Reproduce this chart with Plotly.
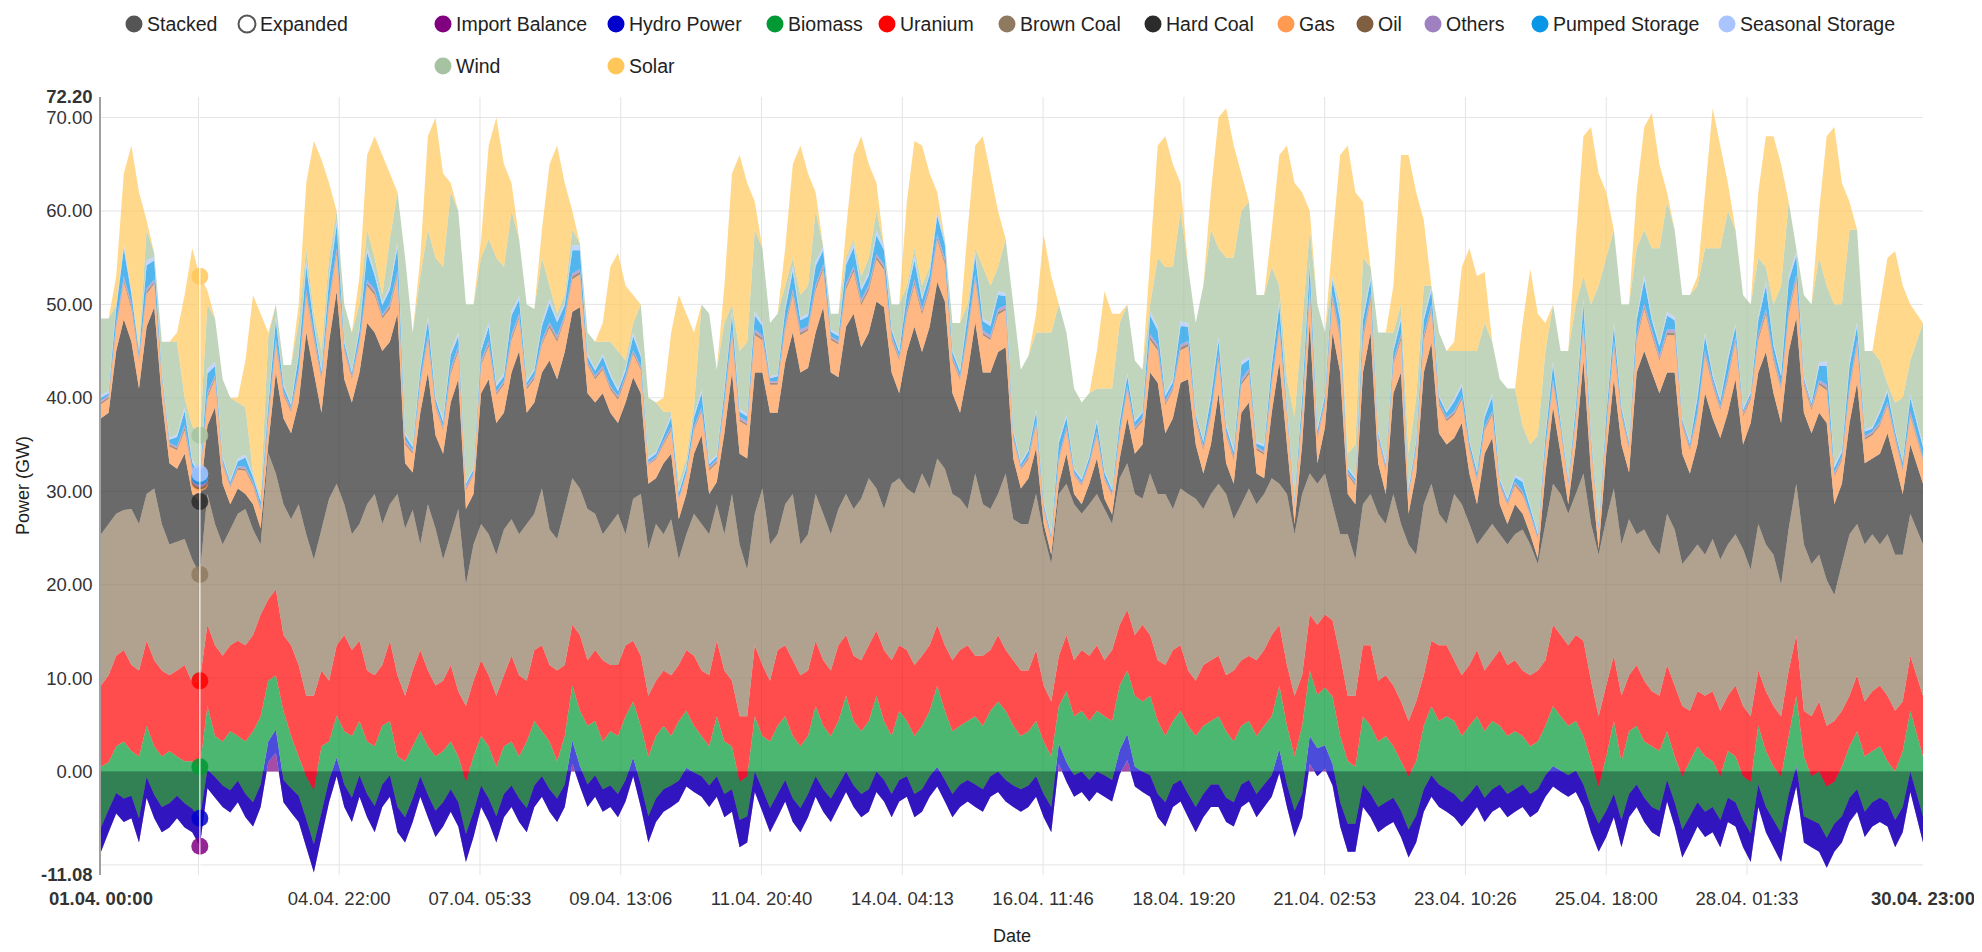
import numpy as np
import plotly.graph_objects as go

# ---------------------------------------------------------------- time axis
# samples every 3 hours, hours counted from 01.04. 00:00 (last sample 30.04. 23:00)
hours = list(range(0, 717, 3)) + [719]

tick_hours = [0, 38.45, 94.0, 149.55, 205.1, 260.67, 316.22, 371.77, 427.33,
              482.88, 538.43, 594.0, 649.55, 719]
tick_labels = ["<b>01.04. 00:00</b>", "", "04.04. 22:00", "07.04. 05:33", "09.04. 13:06",
               "11.04. 20:40", "14.04. 04:13", "16.04. 11:46", "18.04. 19:20",
               "21.04. 02:53", "23.04. 10:26", "25.04. 18:00", "28.04. 01:33",
               "<b>30.04. 23:00</b>"]
y_ticks = [-11.08, 0, 10, 20, 30, 40, 50, 60, 70, 72.2]
y_labels = ["<b>-11.08</b>", "0.00", "10.00", "20.00", "30.00", "40.00", "50.00",
            "60.00", "70.00", "<b>72.20</b>"]

# ---------------------------------------------------------------- values (GW)
import_balance = [
    -8.6, -6.5, -4.5, -5.4, -5.0, -7.6, -2.8, -5.0, -6.5, -6.0, -5.0, -6.0, -6.5, -8.0, -1.8, -2.8,
    -3.8, -4.4, -3.3, -4.9, -5.9, -3.8, 1.0, 2.0, -3.3, -4.4, -5.4, -8.1, -10.8, -7.0, -3.3, -0.5,
    -3.8, -5.4, -2.7, -4.9, -6.5, -3.8, -2.7, -6.5,
    -7.6, -5.4, -2.7, -4.9, -7.0, -5.9, -4.3, -5.9, -9.7, -7.0, -3.8, -5.4, -7.6, -4.9, -3.8, -5.4,
    -6.5, -3.8, -2.7, -4.3, -5.4, -3.8, 0.8, -1.6, -3.8, -2.7, -4.3, -3.8, -4.9, -3.2, -0.5, -3.8,
    -7.6, -5.4, -4.3, -3.8, -3.2, -1.6, -2.2, -2.7,
    -3.8, -2.7, -4.9, -4.3, -8.1, -7.6, -2.2, -4.3, -6.5, -4.9, -3.2, -5.4, -6.5, -4.9, -2.7, -4.3,
    -5.4, -3.8, -2.2, -3.8, -4.9, -4.3, -2.2, -3.2, -4.9, -3.2, -2.7, -4.9, -4.3, -2.7, -1.6, -3.2,
    -4.9, -3.8, -3.2, -3.8, -4.3, -2.7, -2.2, -3.2,
    -3.8, -4.3, -3.8, -2.7, -4.9, -6.5, 0.8, -1.1, -2.7, -2.2, -3.2, -2.2, -2.7, -3.2, -0.3, 1.2,
    -1.6, -2.2, -2.7, -4.9, -5.9, -3.8, -3.2, -4.9, -6.5, -4.9, -3.8, -3.8, -5.4, -5.9, -3.8, -3.2,
    -4.9, -3.8, -2.7, -0.2, -3.8, -7.0, -4.9, 0.8,
    -0.5, 0.3, -1.5, -5.9, -8.6, -8.6, -3.8, -4.9, -6.5, -5.9, -5.4, -7.0, -9.2, -7.6, -4.3, -2.7,
    -3.8, -4.3, -4.9, -5.9, -4.9, -3.8, -5.4, -4.3, -3.8, -4.9, -4.3, -3.8, -4.9, -4.3, -2.7, -1.6,
    -2.2, -2.7, -2.2, -3.8, -6.5, -8.6, -7.0, -4.9,
    -8.1, -4.9, -3.8, -5.4, -6.5, -7.0, -3.2, -5.9, -9.2, -7.6, -5.9, -7.0, -6.5, -8.1, -5.4, -5.9,
    -8.1, -9.7, -3.8, -6.5, -8.1, -9.7, -4.9, -1.6, -7.6, -8.1, -8.6, -10.3, -8.6, -7.6, -5.4, -4.3,
    -7.0, -5.9, -5.4, -5.9, -8.1, -6.5, -2.2, -7.6,
]

hydro_power = [
    2.6, 2.4, 2.2, 2.5, 2.4, 2.6, 2.2, 2.5, 2.7, 2.6, 2.4, 2.6, 2.5, 3.0, 2.0, 2.2,
    2.3, 2.4, 2.3, 2.5, 2.6, 2.4, 2.2, 2.5, 2.4, 2.6, 2.8, 3.0, 3.0, 2.6, 2.4, 2.0,
    2.4, 2.6, 2.3, 2.5, 2.8, 2.4, 2.3, 2.7,
    2.7, 2.5, 2.2, 2.4, 2.8, 2.6, 2.4, 2.6, 3.0, 2.7, 2.3, 2.5, 2.8, 2.5, 2.3, 2.5,
    2.6, 2.3, 2.2, 2.4, 2.5, 2.4, 2.5, 2.2, 2.4, 2.3, 2.4, 2.3, 2.5, 2.3, 2.0, 2.4,
    2.8, 2.5, 2.4, 2.3, 2.2, 2.0, 2.1, 2.2,
    2.3, 2.2, 2.5, 2.4, 2.9, 2.8, 2.2, 2.4, 2.6, 2.5, 2.3, 2.5, 2.6, 2.5, 2.2, 2.4,
    2.5, 2.3, 2.2, 2.3, 2.5, 2.4, 2.2, 2.3, 2.5, 2.3, 2.2, 2.5, 2.4, 2.2, 2.1, 2.3,
    2.5, 2.4, 2.3, 2.4, 2.4, 2.2, 2.2, 2.3,
    2.3, 2.4, 2.3, 2.2, 2.5, 2.7, 2.2, 2.1, 2.3, 2.2, 2.3, 2.2, 2.3, 2.3, 2.6, 2.8,
    2.1, 2.2, 2.3, 2.5, 2.6, 2.4, 2.3, 2.5, 2.7, 2.5, 2.4, 2.4, 2.6, 2.6, 2.4, 2.3,
    2.5, 2.4, 2.3, 2.6, 2.4, 2.8, 2.5, 3.0,
    3.0, 2.5, 2.3, 2.6, 3.0, 3.0, 2.4, 2.5, 2.7, 2.6, 2.6, 2.8, 3.0, 2.9, 2.4, 2.3,
    2.4, 2.4, 2.5, 2.6, 2.5, 2.4, 2.6, 2.4, 2.4, 2.5, 2.4, 2.4, 2.5, 2.4, 2.3, 2.2,
    2.3, 2.3, 2.3, 2.4, 2.7, 3.0, 2.8, 2.5,
    2.9, 2.5, 2.4, 2.6, 2.7, 2.8, 2.3, 2.6, 3.0, 2.8, 2.6, 2.7, 2.7, 2.9, 2.6, 2.6,
    2.9, 3.1, 2.4, 2.7, 2.9, 3.1, 2.5, 2.2, 2.8, 2.9, 3.0, 3.2, 3.0, 2.8, 2.6, 2.4,
    2.7, 2.6, 2.6, 2.6, 2.9, 2.7, 2.2, 2.8,
]

# upper edges of the stacked bands
biomass_top = [
    0.5, 1.0, 2.7, 3.2, 2.2, 1.6, 4.9, 2.7, 1.6, 2.2, 1.6, 1.1, 1.1, 0.5, 7.0, 3.8,
    3.2, 4.3, 3.8, 3.2, 4.3, 5.9, 9.7, 10.3, 6.5, 3.8, 1.6, -0.5, -2.0, 2.7, 3.2, 6.0,
    4.3, 3.8, 5.4, 3.2, 2.7, 4.9, 5.4, 1.6,
    1.1, 2.7, 4.3, 2.7, 1.6, 2.2, 3.2, 1.6, -1.1, 1.6, 3.8, 2.7, 0.5, 2.7, 3.2, 1.6,
    3.2, 5.4, 4.3, 3.2, 1.1, 3.8, 9.2, 6.5, 4.9, 5.4, 3.2, 4.3, 3.8, 5.9, 7.5, 4.9,
    1.6, 3.8, 4.9, 3.8, 5.4, 6.5, 4.9, 3.8,
    2.7, 5.9, 3.2, 2.7, -1.1, -0.5, 5.9, 3.8, 3.2, 4.9, 5.9, 3.8, 2.7, 3.8, 7.0, 4.9,
    3.8, 5.4, 8.1, 5.4, 4.3, 5.4, 8.1, 5.4, 3.8, 6.5, 5.4, 3.8, 4.9, 6.5, 9.2, 6.5,
    4.3, 4.9, 5.4, 5.9, 4.9, 6.5, 7.5, 6.5,
    4.9, 3.8, 4.3, 5.4, 3.2, 1.6, 7.0, 8.6, 5.9, 6.5, 5.4, 6.5, 5.9, 5.4, 9.2, 10.8,
    8.1, 7.5, 8.1, 5.4, 3.8, 5.4, 6.5, 4.9, 3.8, 4.9, 5.4, 5.9, 4.3, 3.2, 4.9, 5.4,
    3.8, 4.9, 5.9, 9.2, 4.9, 1.6, 4.9, 10.8,
    8.2, 9.0, 8.0, 3.8, 1.1, 0.5, 5.9, 4.9, 3.2, 3.8, 2.7, 1.1, -0.5, 1.1, 4.9, 7.0,
    5.4, 5.9, 5.4, 3.8, 4.9, 5.9, 4.3, 5.4, 4.9, 3.8, 4.3, 3.8, 2.7, 3.2, 4.9, 7.0,
    5.9, 4.9, 5.4, 3.8, 1.1, -1.6, 1.6, 5.4,
    1.1, 4.3, 4.9, 3.2, 2.7, 2.2, 4.3, 1.6, -0.5, 1.1, 2.7, 1.6, 1.1, -0.5, 2.2, 1.6,
    -0.5, -1.1, 4.9, 2.2, 0.5, -0.5, 3.8, 8.1, 1.6, -0.5, 0.0, -1.6, -1.1, 0.5, 2.7, 4.3,
    1.6, 2.2, 2.7, 1.1, 0.0, 2.2, 6.5, 1.6,
]

uranium_top = [
    9.2, 10.3, 12.4, 13.0, 11.4, 10.8, 14.0, 11.9, 10.8, 10.3, 10.8, 11.4, 9.5, 9.7, 15.7, 13.5,
    12.4, 13.5, 14.0, 13.5, 14.6, 16.8, 18.4, 19.5, 14.6, 13.5, 11.4, 8.1, 8.1, 10.8, 9.7, 13.5,
    14.6, 13.0, 14.0, 10.8, 10.3, 11.4, 14.0, 10.3,
    8.1, 10.8, 13.0, 10.8, 9.2, 9.7, 11.4, 8.6, 7.0, 9.7, 11.9, 10.3, 8.1, 10.3, 12.4, 10.3,
    9.7, 13.0, 13.5, 11.4, 10.8, 11.4, 15.7, 14.6, 11.9, 13.0, 11.9, 11.4, 11.4, 13.5, 14.0, 12.4,
    8.1, 9.7, 10.8, 10.3, 11.4, 13.0, 12.4, 10.8,
    10.3, 14.0, 10.8, 9.7, 5.9, 5.9, 13.5, 11.4, 9.7, 13.0, 13.5, 11.9, 10.3, 10.8, 14.0, 11.9,
    10.8, 13.5, 14.6, 12.4, 11.9, 13.5, 15.1, 13.0, 11.9, 13.5, 13.0, 11.4, 12.4, 13.5, 15.7, 13.5,
    11.9, 13.0, 13.5, 12.4, 12.4, 13.0, 14.6, 13.0,
    11.9, 10.8, 10.8, 13.0, 9.2, 7.5, 12.4, 14.6, 11.9, 13.0, 12.4, 13.5, 11.9, 13.0, 15.7, 17.3,
    14.6, 15.7, 14.6, 11.9, 11.4, 13.0, 13.5, 10.8, 9.7, 11.4, 11.9, 12.4, 10.3, 10.8, 11.9, 12.4,
    11.9, 13.0, 14.6, 15.7, 11.4, 8.1, 10.3, 16.8,
    15.7, 16.8, 16.2, 12.4, 8.1, 8.1, 13.5, 13.5, 9.7, 10.3, 9.2, 7.5, 5.4, 7.5, 10.3, 14.0,
    13.5, 13.5, 11.9, 10.3, 11.4, 13.0, 10.8, 11.9, 13.0, 11.4, 11.9, 10.8, 10.3, 10.8, 11.9, 15.7,
    14.6, 13.5, 14.6, 14.0, 9.7, 5.9, 9.2, 12.4,
    8.1, 10.3, 11.4, 9.7, 8.6, 8.1, 11.4, 9.2, 7.0, 6.5, 8.6, 8.1, 8.6, 6.5, 8.1, 9.2,
    7.0, 5.9, 10.8, 8.6, 7.0, 5.9, 10.8, 14.6, 6.5, 5.9, 7.5, 4.9, 5.4, 6.5, 8.1, 10.3,
    7.5, 8.6, 9.2, 8.1, 6.5, 7.5, 12.4, 8.1,
]

brown_coal_top = [
    25.4, 26.5, 27.6, 28.0, 28.1, 26.5, 29.7, 30.3, 26.5, 24.3, 24.6, 24.9, 22.7, 21.1, 29.7, 26.5,
    24.3, 25.9, 27.6, 28.1, 25.9, 24.3, 34.1, 31.9, 28.6, 27.0, 28.6, 25.4, 22.7, 25.9, 29.2, 30.8,
    28.6, 25.4, 26.5, 28.6, 29.7, 26.5, 28.6, 29.7,
    26.0, 28.0, 24.3, 28.6, 26.0, 22.7, 25.4, 28.1, 20.0, 24.3, 26.5, 25.4, 23.2, 25.9, 27.0, 25.4,
    26.5, 27.6, 30.3, 25.9, 24.9, 28.1, 31.4, 30.3, 28.1, 27.6, 25.4, 26.5, 27.6, 25.4, 29.2, 29.7,
    23.8, 26.5, 25.4, 27.0, 22.7, 25.4, 27.6, 26.5,
    25.4, 28.6, 25.4, 29.7, 24.3, 21.6, 27.6, 30.3, 24.3, 25.4, 28.6, 29.7, 24.3, 25.4, 29.7, 27.6,
    25.4, 28.1, 29.7, 28.1, 29.2, 31.4, 30.3, 28.1, 30.8, 31.4, 30.3, 29.7, 31.9, 30.3, 33.5, 32.4,
    29.7, 29.2, 28.1, 31.9, 28.6, 28.1, 29.7, 31.9,
    27.0, 26.5, 26.5, 29.7, 25.4, 22.2, 29.7, 30.8, 28.6, 27.6, 28.6, 29.7, 28.1, 26.5, 31.4, 33.0,
    29.7, 29.2, 31.9, 29.7, 29.7, 28.1, 30.3, 29.7, 29.2, 28.1, 29.7, 30.8, 29.7, 27.0, 28.6, 30.3,
    28.6, 29.7, 31.4, 30.8, 29.7, 25.4, 29.7, 31.9,
    30.8, 31.9, 28.6, 25.4, 25.4, 22.7, 28.6, 29.7, 27.6, 26.5, 29.7, 26.5, 24.3, 23.2, 28.6, 30.8,
    27.6, 26.5, 29.7, 28.6, 26.5, 24.3, 25.4, 26.5, 25.4, 24.3, 25.4, 25.9, 24.3, 22.2, 26.5, 30.8,
    29.7, 27.6, 29.7, 31.9, 26.5, 23.2, 27.0, 30.3,
    24.3, 27.0, 25.4, 25.9, 24.3, 23.2, 27.6, 25.9, 22.2, 23.2, 24.3, 23.2, 24.9, 22.7, 24.3, 25.4,
    23.8, 21.6, 26.5, 24.3, 23.2, 20.0, 26.0, 30.8, 24.3, 22.2, 23.2, 20.5, 18.9, 22.2, 25.4, 26.5,
    24.3, 25.4, 24.3, 25.4, 23.2, 23.2, 27.6, 24.3,
]

hard_coal_top = [
    37.8, 38.4, 45.0, 48.4, 46.0, 41.0, 47.6, 49.7, 40.0, 33.0, 32.4, 34.0, 29.7, 28.9, 37.0, 39.0,
    30.8, 28.6, 30.3, 29.7, 28.6, 26.0, 35.0, 42.7, 37.8, 36.2, 39.5, 47.0, 42.7, 38.4, 46.0, 51.4,
    42.0, 39.5, 42.7, 48.0, 47.0, 45.0, 46.0, 49.0,
    33.0, 32.0, 38.4, 42.7, 36.0, 34.0, 39.5, 42.0, 28.1, 29.7, 40.5, 42.0, 37.3, 38.4, 42.7, 45.0,
    38.4, 39.5, 42.7, 44.0, 42.0, 44.9, 49.2, 49.7, 40.5, 39.5, 40.5, 38.4, 37.3, 39.5, 42.2, 40.5,
    30.8, 31.4, 33.0, 34.0, 27.0, 29.7, 34.0, 36.0,
    29.7, 31.0, 36.2, 42.7, 34.0, 33.5, 42.7, 42.7, 38.4, 38.4, 43.8, 47.0, 42.7, 43.2, 47.0, 49.7,
    42.7, 42.2, 47.6, 49.0, 45.4, 47.0, 50.3, 49.7, 42.7, 40.5, 44.9, 47.6, 44.9, 47.6, 52.4, 50.3,
    40.5, 38.4, 42.7, 48.1, 42.7, 42.7, 44.9, 45.4,
    33.5, 30.3, 31.4, 34.6, 26.5, 23.2, 30.8, 34.0, 29.7, 28.6, 30.8, 33.5, 29.2, 27.5, 33.5, 37.8,
    34.0, 35.0, 42.7, 41.6, 36.2, 37.8, 41.6, 42.0, 35.0, 31.9, 35.0, 40.5, 33.0, 30.8, 38.4, 39.5,
    31.9, 31.4, 38.4, 43.8, 35.0, 26.5, 35.0, 48.0,
    33.0, 36.8, 47.0, 42.7, 29.7, 28.6, 42.7, 47.0, 33.0, 29.7, 40.5, 42.7, 27.6, 31.9, 42.7, 45.9,
    36.2, 35.0, 35.7, 37.3, 31.9, 28.6, 34.0, 35.7, 28.6, 26.5, 28.6, 27.6, 25.4, 22.8, 31.9, 39.0,
    34.0, 28.6, 35.0, 44.0, 31.9, 23.8, 34.0, 42.0,
    35.0, 32.0, 42.7, 45.0, 42.7, 40.5, 42.7, 42.7, 34.0, 31.9, 35.0, 40.5, 37.8, 35.7, 38.4, 42.0,
    35.0, 37.3, 42.7, 44.9, 40.5, 37.3, 44.9, 48.6, 38.4, 36.2, 38.4, 37.3, 28.6, 30.8, 37.3, 41.6,
    33.0, 33.5, 34.0, 36.2, 33.0, 29.7, 35.0, 30.8,
]

gas = [
    1.5, 1.5, 2.5, 4.0, 3.5, 3.0, 3.5, 2.5, 2.0, 1.8, 2.0, 2.5, 2.5, 2.0, 3.0, 3.0,
    2.0, 1.8, 2.0, 2.5, 2.0, 2.0, 2.5, 3.0, 2.5, 2.3, 3.0, 4.0, 3.5, 3.5, 4.0, 4.0,
    3.0, 2.5, 3.0, 4.0, 4.0, 3.5, 3.5, 4.0,
    2.0, 2.0, 3.0, 3.5, 3.0, 2.5, 3.0, 3.0, 2.0, 2.0, 3.0, 3.5, 3.0, 3.0, 3.5, 3.5,
    2.5, 2.5, 3.0, 3.5, 4.0, 3.5, 3.5, 3.5, 3.0, 2.5, 2.5, 2.5, 2.5, 2.5, 2.5, 2.5,
    2.0, 2.0, 2.0, 2.5, 2.0, 2.0, 2.5, 2.5,
    2.5, 2.0, 3.0, 4.0, 3.5, 3.5, 4.0, 3.5, 3.0, 3.0, 3.5, 4.0, 4.0, 4.0, 4.5, 4.0,
    3.5, 3.5, 4.0, 4.5, 4.5, 4.5, 4.5, 4.0, 3.5, 3.5, 4.0, 4.5, 4.0, 4.0, 4.5, 4.0,
    3.5, 3.5, 4.0, 4.5, 4.0, 3.5, 4.0, 4.0,
    2.0, 2.0, 2.0, 2.5, 1.5, 1.5, 2.5, 2.5, 2.0, 2.0, 2.0, 2.5, 2.0, 2.0, 2.5, 3.0,
    2.5, 2.5, 3.5, 3.5, 3.0, 3.0, 3.5, 3.5, 2.5, 2.5, 3.0, 3.5, 3.0, 2.5, 3.0, 3.0,
    2.5, 2.5, 3.0, 3.5, 3.0, 2.0, 3.0, 3.5,
    2.5, 2.5, 3.5, 3.5, 2.0, 2.0, 3.5, 3.5, 2.5, 2.5, 3.0, 3.5, 2.0, 2.5, 3.5, 3.5,
    3.0, 2.5, 2.5, 2.5, 2.5, 2.5, 2.5, 2.5, 2.0, 2.0, 2.0, 2.0, 2.0, 2.0, 2.5, 2.5,
    2.5, 2.0, 2.5, 3.5, 3.0, 2.0, 2.5, 3.5,
    3.0, 2.5, 3.5, 4.5, 4.0, 3.5, 4.0, 4.0, 3.0, 2.5, 3.0, 4.0, 3.5, 3.0, 3.5, 4.0,
    3.0, 2.5, 3.5, 4.0, 3.5, 3.5, 4.0, 4.0, 3.0, 2.5, 3.0, 3.5, 3.0, 2.5, 3.5, 4.0,
    2.5, 2.5, 3.0, 3.0, 2.5, 2.5, 3.0, 2.5,
]

oil = [
    0.2, 0.2, 0.2, 0.3, 0.3, 0.2, 0.3, 0.2, 0.2, 0.2, 0.2, 0.3, 0.2, 0.2, 0.3, 0.2,
    0.2, 0.1, 0.2, 0.2, 0.2, 0.2, 0.3, 0.3, 0.2, 0.2, 0.2, 0.3, 0.3, 0.2, 0.3, 0.3,
    0.2, 0.2, 0.2, 0.3, 0.3, 0.2, 0.3, 0.3,
    0.2, 0.2, 0.2, 0.3, 0.2, 0.2, 0.3, 0.3, 0.2, 0.1, 0.2, 0.3, 0.2, 0.2, 0.3, 0.2,
    0.2, 0.2, 0.2, 0.3, 0.3, 0.2, 0.3, 0.3, 0.2, 0.2, 0.2, 0.2, 0.2, 0.2, 0.2, 0.2,
    0.1, 0.1, 0.2, 0.2, 0.1, 0.1, 0.2, 0.2,
    0.2, 0.2, 0.2, 0.3, 0.2, 0.2, 0.3, 0.2, 0.2, 0.2, 0.3, 0.3, 0.3, 0.2, 0.3, 0.3,
    0.2, 0.2, 0.3, 0.3, 0.3, 0.3, 0.3, 0.3, 0.2, 0.2, 0.3, 0.3, 0.3, 0.3, 0.3, 0.3,
    0.2, 0.2, 0.3, 0.3, 0.2, 0.2, 0.3, 0.2,
    0.1, 0.1, 0.2, 0.2, 0.1, 0.1, 0.2, 0.2, 0.1, 0.1, 0.1, 0.2, 0.1, 0.1, 0.2, 0.2,
    0.2, 0.2, 0.3, 0.3, 0.2, 0.2, 0.3, 0.3, 0.2, 0.2, 0.2, 0.3, 0.2, 0.2, 0.3, 0.3,
    0.2, 0.2, 0.2, 0.3, 0.2, 0.1, 0.2, 0.3,
    0.2, 0.2, 0.3, 0.3, 0.2, 0.2, 0.3, 0.3, 0.2, 0.2, 0.2, 0.3, 0.1, 0.2, 0.3, 0.3,
    0.2, 0.2, 0.2, 0.2, 0.2, 0.2, 0.2, 0.2, 0.1, 0.1, 0.2, 0.2, 0.1, 0.1, 0.2, 0.2,
    0.2, 0.1, 0.2, 0.3, 0.2, 0.1, 0.2, 0.3,
    0.2, 0.2, 0.3, 0.3, 0.3, 0.2, 0.3, 0.3, 0.2, 0.2, 0.2, 0.3, 0.2, 0.2, 0.3, 0.3,
    0.2, 0.2, 0.3, 0.3, 0.3, 0.2, 0.3, 0.3, 0.2, 0.2, 0.2, 0.3, 0.2, 0.2, 0.3, 0.3,
    0.2, 0.2, 0.2, 0.2, 0.2, 0.2, 0.2, 0.2,
]

others = [
    0.2, 0.2, 0.3, 0.3, 0.3, 0.2, 0.3, 0.3, 0.2, 0.2, 0.2, 0.3, 0.2, 0.2, 0.3, 0.2,
    0.2, 0.2, 0.2, 0.2, 0.2, 0.2, 0.3, 0.3, 0.2, 0.2, 0.3, 0.3, 0.3, 0.2, 0.3, 0.3,
    0.2, 0.2, 0.3, 0.3, 0.3, 0.2, 0.3, 0.3,
    0.3, 0.2, 0.3, 0.3, 0.2, 0.2, 0.3, 0.3, 0.2, 0.2, 0.3, 0.3, 0.2, 0.2, 0.3, 0.3,
    0.2, 0.2, 0.3, 0.3, 0.3, 0.3, 0.3, 0.3, 0.2, 0.2, 0.2, 0.2, 0.2, 0.2, 0.2, 0.2,
    0.2, 0.2, 0.2, 0.2, 0.2, 0.2, 0.2, 0.3,
    0.2, 0.2, 0.3, 0.3, 0.3, 0.3, 0.3, 0.3, 0.2, 0.2, 0.3, 0.3, 0.3, 0.3, 0.3, 0.3,
    0.2, 0.2, 0.3, 0.3, 0.3, 0.3, 0.3, 0.3, 0.3, 0.2, 0.3, 0.3, 0.3, 0.3, 0.3, 0.3,
    0.2, 0.2, 0.3, 0.3, 0.3, 0.3, 0.3, 0.3,
    0.2, 0.2, 0.2, 0.2, 0.2, 0.2, 0.2, 0.2, 0.2, 0.2, 0.2, 0.2, 0.2, 0.2, 0.2, 0.3,
    0.2, 0.2, 0.3, 0.3, 0.3, 0.2, 0.3, 0.3, 0.2, 0.2, 0.3, 0.3, 0.2, 0.2, 0.3, 0.3,
    0.2, 0.2, 0.3, 0.3, 0.2, 0.2, 0.3, 0.3,
    0.3, 0.2, 0.3, 0.3, 0.2, 0.2, 0.3, 0.3, 0.2, 0.2, 0.3, 0.3, 0.2, 0.2, 0.3, 0.3,
    0.2, 0.2, 0.2, 0.2, 0.2, 0.2, 0.2, 0.2, 0.2, 0.2, 0.2, 0.2, 0.2, 0.2, 0.2, 0.3,
    0.2, 0.2, 0.3, 0.3, 0.2, 0.2, 0.3, 0.3,
    0.2, 0.2, 0.3, 0.3, 0.3, 0.3, 0.3, 0.3, 0.2, 0.2, 0.3, 0.3, 0.3, 0.2, 0.3, 0.3,
    0.2, 0.2, 0.3, 0.3, 0.3, 0.3, 0.3, 0.3, 0.2, 0.2, 0.3, 0.3, 0.2, 0.2, 0.3, 0.3,
    0.2, 0.2, 0.2, 0.2, 0.2, 0.2, 0.3, 0.2,
]

pumped_storage = [
    0.3, 0.2, 1.5, 3.0, 1.0, 0.5, 2.5, 2.0, 0.3, 0.3, 1.0, 1.5, 0.5, 0.3, 2.0, 1.0,
    0.3, 0.3, 0.5, 1.0, 0.5, 0.5, 1.0, 2.0, 0.5, 0.3, 1.5, 2.5, 1.0, 0.5, 2.0, 2.5,
    0.5, 0.3, 1.0, 3.0, 1.5, 1.0, 1.5, 2.5,
    0.5, 0.3, 1.0, 1.5, 0.5, 0.5, 1.5, 1.0, 0.3, 0.3, 1.0, 1.5, 0.5, 0.5, 2.0, 1.5,
    0.3, 0.5, 1.5, 2.0, 1.5, 1.0, 2.5, 2.0, 0.5, 0.5, 1.0, 1.0, 0.5, 0.5, 1.5, 1.0,
    0.3, 0.3, 0.5, 1.0, 0.5, 0.5, 1.0, 1.5,
    0.3, 0.3, 1.0, 1.5, 0.5, 0.5, 1.5, 1.0, 0.3, 0.5, 1.5, 2.0, 1.0, 1.0, 2.0, 1.5,
    0.5, 0.5, 2.0, 2.0, 1.0, 1.0, 2.0, 1.5, 0.5, 0.5, 1.5, 2.0, 1.0, 1.0, 2.0, 1.5,
    0.5, 0.5, 1.5, 2.0, 1.0, 1.0, 1.5, 1.0,
    0.5, 0.3, 0.5, 1.0, 0.3, 0.3, 1.5, 1.0, 0.3, 0.3, 0.5, 1.0, 0.5, 0.3, 1.0, 1.0,
    0.5, 0.5, 2.0, 1.5, 0.5, 0.5, 2.0, 1.5, 0.3, 0.5, 1.5, 1.5, 0.5, 0.5, 1.5, 1.0,
    0.3, 0.5, 1.5, 2.0, 0.5, 0.3, 1.5, 2.0,
    0.5, 0.5, 1.5, 1.5, 0.3, 0.3, 1.5, 1.5, 0.3, 0.3, 1.0, 1.5, 0.3, 0.5, 1.5, 1.5,
    0.5, 0.5, 1.0, 1.0, 0.5, 0.5, 1.0, 1.5, 0.3, 0.3, 0.5, 1.0, 0.5, 0.3, 1.0, 1.5,
    0.5, 0.3, 1.0, 2.0, 0.5, 0.3, 1.0, 1.5,
    0.5, 0.3, 1.5, 2.5, 1.0, 1.0, 1.5, 1.0, 0.3, 0.3, 1.5, 1.5, 0.5, 0.5, 1.5, 1.0,
    0.3, 0.3, 1.5, 2.5, 1.0, 1.0, 3.0, 2.0, 0.3, 0.3, 1.5, 2.0, 0.5, 0.5, 2.0, 1.5,
    0.5, 0.3, 1.0, 1.0, 0.5, 0.5, 1.5, 1.0,
]

seasonal_storage = [
    0.3, 0.2, 0.4, 0.5, 0.3, 0.3, 0.5, 0.4, 0.2, 0.2, 0.3, 0.4, 0.3, 0.3, 0.5, 0.4,
    0.2, 0.2, 0.3, 0.3, 0.3, 0.3, 0.4, 0.5, 0.3, 0.2, 0.4, 0.5, 0.3, 0.3, 0.5, 0.5,
    0.3, 0.2, 0.4, 0.5, 0.4, 0.3, 0.4, 0.5,
    0.3, 0.2, 0.4, 0.4, 0.3, 0.3, 0.4, 0.4, 0.2, 0.2, 0.4, 0.5, 0.3, 0.3, 0.5, 0.4,
    0.2, 0.2, 0.4, 0.5, 0.4, 0.3, 0.5, 0.5, 0.3, 0.2, 0.3, 0.3, 0.3, 0.3, 0.4, 0.3,
    0.2, 0.2, 0.2, 0.3, 0.2, 0.2, 0.3, 0.4,
    0.2, 0.2, 0.3, 0.4, 0.3, 0.3, 0.4, 0.4, 0.2, 0.2, 0.4, 0.5, 0.3, 0.3, 0.5, 0.4,
    0.2, 0.2, 0.4, 0.5, 0.3, 0.3, 0.5, 0.4, 0.2, 0.2, 0.4, 0.5, 0.3, 0.3, 0.5, 0.4,
    0.2, 0.2, 0.4, 0.5, 0.3, 0.3, 0.4, 0.3,
    0.2, 0.2, 0.2, 0.3, 0.2, 0.2, 0.3, 0.3, 0.2, 0.2, 0.2, 0.3, 0.2, 0.2, 0.3, 0.3,
    0.2, 0.2, 0.4, 0.4, 0.3, 0.3, 0.5, 0.4, 0.2, 0.2, 0.4, 0.4, 0.3, 0.3, 0.4, 0.3,
    0.2, 0.2, 0.4, 0.5, 0.3, 0.2, 0.4, 0.5,
    0.3, 0.3, 0.4, 0.4, 0.2, 0.2, 0.4, 0.4, 0.2, 0.2, 0.3, 0.4, 0.2, 0.2, 0.4, 0.4,
    0.2, 0.2, 0.3, 0.3, 0.2, 0.2, 0.3, 0.4, 0.2, 0.2, 0.2, 0.3, 0.2, 0.2, 0.3, 0.4,
    0.2, 0.2, 0.3, 0.5, 0.3, 0.2, 0.3, 0.4,
    0.3, 0.2, 0.4, 0.5, 0.3, 0.3, 0.4, 0.3, 0.2, 0.2, 0.4, 0.4, 0.3, 0.3, 0.4, 0.3,
    0.2, 0.2, 0.4, 0.5, 0.3, 0.3, 0.5, 0.5, 0.2, 0.2, 0.4, 0.5, 0.3, 0.3, 0.5, 0.4,
    0.2, 0.2, 0.3, 0.3, 0.2, 0.2, 0.4, 0.3,
]

wind_top = [
    48.5, 48.5, 49, 56.5, 51.5, 45.5, 58, 55.5, 46, 46, 46, 40, 37, 36, 50, 48.5,
    42, 40, 39.5, 39, 32, 29.5, 46.5, 50, 43.5, 43.5, 48, 56, 49, 45, 55, 60,
    50, 47, 50, 58, 55, 51, 57, 62,
    55, 47, 53, 58, 55, 54, 62, 60, 50, 50, 55, 57, 55, 54, 60, 57,
    50, 49.5, 55, 52, 49, 51, 58, 56.5, 47, 46, 46, 46, 45, 44, 48, 50,
    40, 39.5, 38.5, 38.5, 31, 33.5, 39, 50,
    49, 43, 48, 50, 45, 46, 58, 56, 48, 49, 52, 55, 51, 52, 60, 56,
    49, 49, 55, 57, 53, 55, 60, 56, 50, 50, 52, 56, 52, 54, 60, 57,
    48, 48, 50, 56, 54, 52, 54, 57,
    50, 43, 44.5, 47, 47, 47, 50, 47, 41, 39.5, 40.5, 41, 41, 41, 48, 50,
    44, 43, 50, 55, 54, 54, 60, 54, 48, 52, 58, 56, 55, 55, 60, 61,
    51, 51, 54, 52, 42, 38, 48, 58,
    50, 47, 53, 50, 34, 35, 55, 54, 47, 47, 47, 50, 34, 40, 52, 52,
    47, 45, 45, 45, 45, 45, 48, 46, 42, 41, 41, 37, 35, 36, 45, 50,
    45, 45, 50, 53, 50, 52, 55, 58,
    50, 50, 56, 58, 56, 56, 61, 58, 51, 51, 52, 56, 56, 56, 60, 58,
    51, 50, 55, 54, 50, 52, 61, 56, 51, 50, 55, 52, 50, 50, 58, 58,
    45, 45, 44, 41.5, 39.5, 40, 44, 48,
]

solar_top = [
    48.5, 48.5, 53, 64, 67, 62, 59, 55.5, 46, 46, 47, 51, 56, 53, 51.5, 48.5,
    42, 40, 40, 44, 51, 49, 47, 50, 43.5, 43.5, 50, 63, 67.5, 65.5, 63, 60,
    50, 47, 53, 66, 68, 66, 64, 62,
    55, 47, 55, 68, 70, 64, 63, 60, 50, 50, 57, 67, 70, 65, 63, 57,
    50, 49.5, 58, 65, 67, 63, 60, 56.5, 47, 46, 48, 54, 55.5, 52, 51, 50,
    40, 39.5, 40, 47, 51, 49, 47, 50,
    49, 43, 52, 64, 66, 63, 61, 56, 48, 49, 56, 65, 67, 64, 62, 56,
    49, 49, 58, 66, 68, 65, 63, 56, 50, 50, 61, 67.5, 67, 64, 62, 57,
    48, 48, 58, 67, 68, 64, 60, 57,
    50, 43, 44.5, 49, 57.5, 53, 50, 47, 41, 39.5, 40.5, 45, 51.4, 49, 49, 50,
    44, 43, 55, 67, 68, 65, 63, 54, 48, 52, 62, 70, 71, 67, 64, 61,
    51, 51, 58, 66, 67, 63, 62, 60,
    50, 47, 57, 66, 67, 62, 61, 54, 47, 47, 52, 66, 66, 62, 59, 52,
    47, 45, 46, 54, 56, 53, 53.5, 46, 42, 41, 41, 48, 53.8, 49, 48, 50,
    45, 45, 57, 68, 69, 64, 62, 58,
    50, 50, 62, 69, 70.5, 65, 62, 58, 51, 51, 53, 62, 71, 67, 63, 58,
    51, 50, 62, 68, 68, 65, 61, 56, 51, 50, 60, 68, 69, 63, 61, 58,
    45, 45, 50, 55, 55.7, 52, 50, 48,
]

_all = dict(import_balance=import_balance, hydro_power=hydro_power, biomass_top=biomass_top,
            uranium_top=uranium_top, brown_coal_top=brown_coal_top, hard_coal_top=hard_coal_top,
            gas=gas, oil=oil, others=others, pumped_storage=pumped_storage,
            seasonal_storage=seasonal_storage, wind_top=wind_top, solar_top=solar_top)
_bad = {k: len(v) for k, v in _all.items() if len(v) != len(hours)}
if _bad:
    raise SystemExit(f"length mismatch (expected {len(hours)}): {_bad}")

# ---------------------------------------------------------------- per-series values
A = {k: np.array(v, dtype=float) for k, v in _all.items()}
imp = A["import_balance"]
hyd = A["hydro_power"]
bio = np.clip(A["biomass_top"] - (imp + hyd), 0.1, None)
ura = np.clip(A["uranium_top"] - A["biomass_top"], 0.1, None)
brc = np.clip(A["brown_coal_top"] - A["uranium_top"], 0.1, None)
hdc = np.clip(A["hard_coal_top"] - A["brown_coal_top"], 0.1, None)
below_wind = (imp + hyd + bio + ura + brc + hdc + A["gas"] + A["oil"] + A["others"]
              + A["pumped_storage"] + A["seasonal_storage"])
wnd = np.clip(A["wind_top"] - below_wind, 0, None)
sol = np.clip(A["solar_top"] - (below_wind + wnd), 0, None)

series = [
    ("Import Balance", imp, "#800080"),
    ("Hydro Power", hyd, "#0000cc"),
    ("Biomass", bio, "#009933"),
    ("Uranium", ura, "#ff0000"),
    ("Brown Coal", brc, "#8f7a60"),
    ("Hard Coal", hdc, "#2b2b2b"),
    ("Gas", A["gas"], "#ff9a50"),
    ("Oil", A["oil"], "#7f5f3f"),
    ("Others", A["others"], "#9f80c0"),
    ("Pumped Storage", A["pumped_storage"], "#0a96e6"),
    ("Seasonal Storage", A["seasonal_storage"], "#aac4ff"),
    ("Wind", wnd, "#a5c3a0"),
    ("Solar", sol, "#ffc75a"),
]


def rgba(hex_color, a):
    h = hex_color.lstrip("#")
    r, g, b = int(h[0:2], 16), int(h[2:4], 16), int(h[4:6], 16)
    return f"rgba({r},{g},{b},{a})"


fig = go.Figure()
for name, vals, col in series:
    fig.add_trace(go.Scatter(
        x=hours, y=vals, name=name, stackgroup="gen", mode="none",
        fillcolor=rgba(col, 0.7), showlegend=False, hoverinfo="skip"))

# interactive-guideline markers at one time step
hover_i = 13
cum = np.cumsum([v[hover_i] for _, v, _ in series])
fig.add_trace(go.Scatter(
    x=[hours[hover_i]] * len(series), y=cum, mode="markers",
    marker=dict(color=[c for _, _, c in series], size=17, opacity=0.85, line=dict(width=0)),
    showlegend=False, hoverinfo="skip"))

# ---------------------------------------------------------------- layout helpers
# the page body has an 8px default margin: the figure is sized/offset to fill the window
OFF = 8
W, H = 1982 - OFF, 952 - OFF
ML, MR, MT, MB = 101 - OFF, 59, 97 - OFF, 77
PW, PH = W - ML - MR, H - MT - MB
YMIN, YMAX = -11.08, 72.2
FONT = "Liberation Sans, Arial, Helvetica, sans-serif"


def px_x(px):  # window pixel -> paper
    return (px - OFF - ML) / PW


def px_y(py):
    return (OFF + H - MB - py) / PH


shapes = []
grid_col = "#e4e4e4"
for v in [-10, 0, 10, 20, 30, 40, 50, 60, 70]:
    shapes.append(dict(type="line", xref="x", yref="y", x0=0, x1=719, y0=v, y1=v,
                       line=dict(color=grid_col, width=1), layer="below"))
for t in tick_hours[1:-1]:
    shapes.append(dict(type="line", xref="x", yref="y", x0=t, x1=t, y0=YMIN, y1=YMAX,
                       line=dict(color=grid_col, width=1), layer="below"))
# guideline
shapes.append(dict(type="line", xref="x", yref="y", x0=hours[hover_i], x1=hours[hover_i],
                   y0=YMIN, y1=YMAX, line=dict(color="rgba(255,255,255,0.75)", width=1.5),
                   layer="above"))

annotations = []
R = 8.5


def legend_dot(cx, cy, fill, line_col=None, lw=0):
    shapes.append(dict(type="circle", xref="paper", yref="paper",
                       x0=px_x(cx - R), x1=px_x(cx + R), y0=px_y(cy + R), y1=px_y(cy - R),
                       fillcolor=fill, line=dict(color=line_col or fill, width=lw)))


def legend_text(x, y, text):
    annotations.append(dict(xref="paper", yref="paper", x=px_x(x), y=px_y(y), text=text,
                            showarrow=False, xanchor="left", yanchor="middle",
                            font=dict(family=FONT, size=19.5, color="#222")))


ROW1, ROW2 = 24, 66
# stacked / expanded switch
legend_dot(134, ROW1, "#555555")
legend_text(145, ROW1, "Stacked")
legend_dot(247, ROW1, "#ffffff", "#555555", 2)
legend_text(258, ROW1, "Expanded")

legend_pos = {
    "Import Balance": (443, ROW1), "Hydro Power": (616, ROW1), "Biomass": (775, ROW1),
    "Uranium": (887, ROW1), "Brown Coal": (1007, ROW1), "Hard Coal": (1153, ROW1),
    "Gas": (1286, ROW1), "Oil": (1365, ROW1), "Others": (1433, ROW1),
    "Pumped Storage": (1540, ROW1), "Seasonal Storage": (1727, ROW1),
    "Wind": (443, ROW2), "Solar": (616, ROW2),
}
for name, _, col in series:
    cx, cy = legend_pos[name]
    legend_dot(cx, cy, col)
    legend_text(cx + 11, cy, name)

# axis titles
annotations.append(dict(xref="paper", yref="paper", x=px_x(23), y=0.5, text="Power (GW)",
                        textangle=-90, showarrow=False, xanchor="center", yanchor="middle",
                        font=dict(family=FONT, size=18, color="#222")))
annotations.append(dict(xref="paper", yref="paper", x=0.5, y=px_y(936), text="Date",
                        showarrow=False, xanchor="center", yanchor="middle",
                        font=dict(family=FONT, size=18, color="#222")))

fig.update_layout(
    width=W, height=H,
    margin=dict(l=ML, r=MR, t=MT, b=MB, pad=0),
    paper_bgcolor="white", plot_bgcolor="white",
    showlegend=False, hovermode=False,
    font=dict(family=FONT, size=18, color="#333"),
    shapes=shapes, annotations=annotations,
    xaxis=dict(range=[0, 719], showgrid=False, zeroline=False, showline=False, ticks="",
               tickvals=tick_hours, ticktext=tick_labels, tickangle=0,
               tickfont=dict(family=FONT, size=18.5, color="#333"),
               ticklabelstandoff=10, automargin=False),
    yaxis=dict(range=[YMIN, YMAX], showgrid=False, zeroline=False, showline=True,
               linecolor="#a0a0a0", linewidth=1.5, ticks="",
               tickvals=y_ticks, ticktext=y_labels,
               tickfont=dict(family=FONT, size=18.5, color="#333"),
               ticklabelstandoff=3, automargin=False),
)

fig.write_html("out.html")
